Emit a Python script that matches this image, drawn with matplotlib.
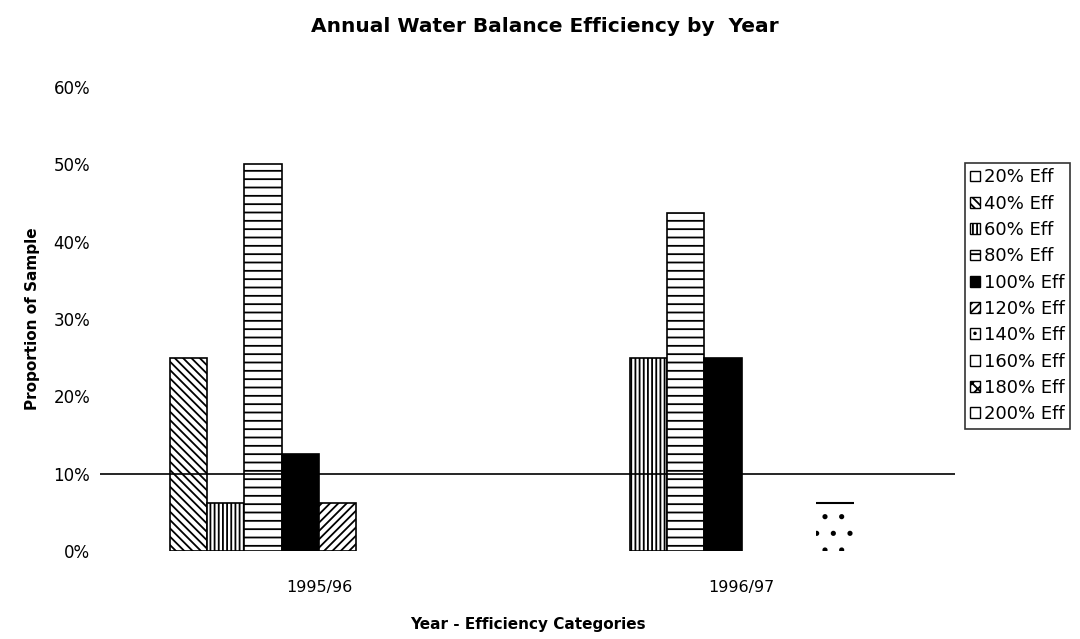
import matplotlib
matplotlib.use("Agg")
import matplotlib.pyplot as plt
import numpy as np
from matplotlib.patches import Patch

years = ['1995/96', '1996/97']
categories = ['20% Eff', '40% Eff', '60% Eff', '80% Eff', '100% Eff',
              '120% Eff', '140% Eff', '160% Eff', '180% Eff', '200% Eff']
# proportion of sample (%) per efficiency category
share_9596 = [0, 25, 6.25, 50, 12.5, 6.25, 0, 0, 0, 0]
share_9697 = [0, 0, 25, 43.75, 25, 0, 0, 6.25, 0, 0]

hatches = ['', '\\\\\\\\', '||||', '--', '', '////', '..', '.', 'xxx', '']
faces = ['white'] * 10
faces[4] = 'black'

plt.rcParams['font.family'] = ['DejaVu Sans']
plt.rcParams['hatch.color'] = 'black'
plt.rcParams['hatch.linewidth'] = 1.3

fig = plt.figure(figsize=(10.8, 6.39), dpi=100)
ax = fig.add_axes([100 / 1080, 1 - 551 / 639, 855 / 1080, 464 / 639])

w = 0.0883
x = np.arange(len(years))
handles = []
for k, cat in enumerate(categories):
    vals = np.array([share_9596[k], share_9697[k]]) / 100
    keep = vals > 0
    pos = x[keep] + (k - 5) * w
    if cat == '160% Eff':
        # this one has no side outline, only the top edge
        bars = ax.bar(pos, vals[keep], w, align='edge', color=faces[k],
                      edgecolor='black', linewidth=0, hatch=hatches[k])
        for b in bars:
            ax.hlines(b.get_height(), b.get_x(), b.get_x() + b.get_width(),
                      color='black', lw=1.5)
    else:
        ax.bar(pos, vals[keep], w, align='edge', color=faces[k],
               edgecolor='black', linewidth=1.2, hatch=hatches[k])
    handles.append(Patch(facecolor=faces[k], edgecolor='black',
                         hatch=hatches[k], label=cat))

ax.axhline(0.10, color='black', lw=1.2)

ax.set_xlim(-0.518, 1.505)
ax.set_ylim(0, 0.6)
ax.set_yticks(np.arange(0, 0.61, 0.1))
ax.set_yticklabels([f'{int(round(t * 100))}%' for t in np.arange(0, 0.61, 0.1)])
ax.set_xticks(x)
ax.set_xticklabels(years)
ax.tick_params(length=0, labelsize=11.5)
ax.tick_params(axis='y', labelsize=12, pad=7)
ax.tick_params(axis='x', pad=21)
for s in ax.spines.values():
    s.set_visible(False)

ax.set_ylabel('Proportion of Sample', fontsize=11, fontweight='bold', labelpad=10)
ax.set_xlabel('Year - Efficiency Categories', fontsize=11, fontweight='bold', labelpad=16)
fig.text(545 / 1080, 1 - 27 / 639, 'Annual Water Balance Efficiency by  Year',
         ha='center', va='center', fontsize=14.5, fontweight='bold')

leg = fig.legend(handles=handles, loc='upper left',
                 bbox_to_anchor=(965 / 1080, 1 - 163 / 639),
                 fontsize=13, frameon=True, fancybox=False,
                 handlelength=0.55, handleheight=0.55, handletextpad=0.2,
                 labelspacing=0.46, borderpad=0.3, borderaxespad=0)
leg.get_frame().set_edgecolor('black')
leg.get_frame().set_linewidth(1.2)

fig.savefig('out.png', dpi=100)
